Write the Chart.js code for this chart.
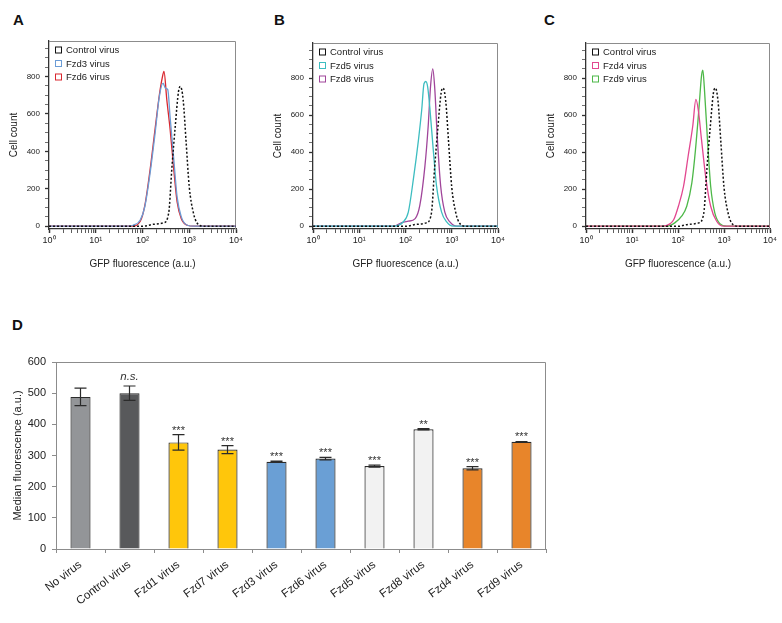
<!DOCTYPE html>
<html>
<head>
<meta charset="utf-8">
<script src="https://cdn.jsdelivr.net/npm/chart.js@4.4.1/dist/chart.umd.min.js"></script>
<style>
  body { margin: 0; background: #fff; width: 782px; height: 623px; position: relative; overflow: hidden; font-family: "Liberation Sans", Arial, sans-serif; }
  canvas { position: absolute; }
  .tag { position: absolute; font-weight: bold; font-size: 15px; line-height: 16px; color: #111; }
</style>
</head>
<body>
<div class="tag" style="left:13px;top:12px">A</div>
<div class="tag" style="left:274px;top:12px">B</div>
<div class="tag" style="left:544px;top:12px">C</div>
<div class="tag" style="left:12px;top:317px">D</div>
<canvas id="histA" width="250" height="270" style="left:0;top:0"></canvas>
<canvas id="histB" width="248" height="270" style="left:264px;top:0"></canvas>
<canvas id="histC" width="243" height="270" style="left:537px;top:0"></canvas>
<canvas id="barD" width="560" height="323" style="left:0;top:300px"></canvas>
<script>
// histogram curves: GFP fluorescence (a.u.) vs cell count
const ctrlX = [1, 105, 170, 282, 363, 427, 501, 589, 646, 741, 851, 1000, 1230, 1479, 2042, 10000];
const ctrlY = [0, 0, 10, 18, 70, 318, 532, 720, 747, 676, 461, 211, 70, 16, 0, 0];

const fzd3X = [1, 46, 63, 89, 112, 145, 186, 229, 275, 309, 347, 389, 468, 550, 676, 912, 1259, 10000];
const fzd3Y = [0, 0, 5, 32, 104, 282, 497, 693, 765, 738, 730, 585, 354, 157, 50, 5, 0, 0];
const fzd6X = [1, 59, 89, 112, 145, 186, 229, 263, 288, 331, 389, 468, 550, 676, 912, 1259, 10000];
const fzd6Y = [0, 0, 25, 110, 300, 520, 700, 790, 827, 676, 520, 300, 130, 40, 5, 0, 0];

const fzd5X = [1, 55, 89, 115, 148, 191, 224, 251, 275, 302, 339, 398, 468, 603, 776, 1072, 10000];
const fzd5Y = [0, 0, 23, 76, 254, 468, 628, 770, 782, 752, 628, 414, 219, 76, 23, 0, 0];
const fzd8X = [1, 55, 83, 115, 162, 204, 263, 309, 347, 389, 427, 490, 575, 708, 912, 1288, 10000];
const fzd8Y = [0, 0, 20, 27, 41, 112, 325, 539, 752, 850, 752, 468, 219, 76, 23, 0, 0];

const fzd4X = [1, 48, 68, 81, 102, 132, 166, 209, 245, 275, 324, 407, 513, 692, 977, 10000];
const fzd4Y = [0, 0, 14, 36, 108, 216, 378, 540, 685, 631, 469, 252, 108, 27, 0, 0];
const fzd9X = [1, 56, 85, 120, 155, 200, 240, 288, 324, 347, 372, 437, 513, 631, 813, 1148, 10000];
const fzd9Y = [0, 0, 18, 54, 108, 234, 414, 649, 811, 843, 757, 469, 216, 72, 14, 0, 0];

// cell count axis: minor tick every 50, label every 200
const countTicks = [0, 50, 100, 150, 200, 250, 300, 350, 400, 450, 500, 550, 600, 650, 700, 750, 800, 850, 900, 950];

// panel D: median fluorescence
const categories = ['No virus', 'Control virus', 'Fzd1 virus', 'Fzd7 virus', 'Fzd3 virus', 'Fzd6 virus', 'Fzd5 virus', 'Fzd8 virus', 'Fzd4 virus', 'Fzd9 virus'];
const medianValues = [488, 500, 342, 319, 280, 290, 266, 384, 259, 344];
const errorValues = [28, 23, 25, 13, 2, 4, 3, 2, 5, 1];
const sigLabels = ['', 'n.s.', '***', '***', '***', '***', '***', '**', '***', '***'];
const barColors = ['#939598', '#58595b', '#ffc60b', '#ffc60b', '#6a9fd5', '#6a9fd5', '#f2f2f2', '#f2f2f2', '#e8852a', '#e8852a'];

const FONT = '"Liberation Sans", Arial, sans-serif';
Chart.defaults.font.family = FONT;
Chart.defaults.color = '#222';

const sup = ['\u2070', '\u00b9', '\u00b2', '\u00b3', '\u2074'];

// grey top / right border of the plot box
const frame = {
    id: 'frame',
    beforeDatasetsDraw(chart) {
        const {ctx, chartArea: a} = chart;
        ctx.save();
        ctx.strokeStyle = '#8c8c8c';
        ctx.lineWidth = 1;
        ctx.beginPath();
        ctx.moveTo(a.left, a.top + 0.5);
        ctx.lineTo(a.right - 0.5, a.top + 0.5);
        ctx.lineTo(a.right - 0.5, a.bottom);
        ctx.stroke();
        ctx.restore();
    }
};

// small legend with outlined boxes, inside the top-left of the plot
const insideLegend = {
    id: 'insideLegend',
    afterDraw(chart) {
        const {ctx, chartArea: a} = chart;
        ctx.save();
        ctx.font = '9.5px ' + FONT;
        ctx.textBaseline = 'middle';
        ctx.textAlign = 'left';
        chart.data.datasets.forEach((d, i) => {
            const cy = a.top + 9 + i * 13.5;
            ctx.strokeStyle = d.borderColor;
            ctx.lineWidth = 1;
            ctx.setLineDash([]);
            ctx.strokeRect(a.left + 6.5, cy - 3, 6, 6);
            ctx.fillStyle = '#222';
            ctx.fillText(d.label, a.left + 17, cy + 0.5);
        });
        ctx.restore();
    }
};

function isDecade(v) {
    const e = Math.round(Math.log10(v));
    return Math.abs(v - Math.pow(10, e)) < 1e-6;
}

function isWholeStep(v) {
    const p = Math.pow(10, Math.floor(Math.log10(v) + 1e-9));
    return Math.abs(v / p - Math.round(v / p)) < 1e-6;
}

function histChart(id, sets, padTop, padRight) {
    return new Chart(document.getElementById(id), {
        type: 'line',
        data: {
            datasets: sets.map(s => ({
                label: s.label,
                data: s.x.map((v, i) => ({x: v, y: s.y[i]})),
                borderColor: s.color,
                borderWidth: s.dash ? 1.5 : 1.3,
                borderDash: s.dash || [],
                pointRadius: 0,
                cubicInterpolationMode: 'monotone',
                fill: false
            }))
        },
        options: {
            responsive: false,
            animation: false,
            layout: { padding: { left: 8, top: padTop, right: padRight, bottom: 0 } },
            scales: {
                x: {
                    type: 'logarithmic',
                    min: 1,
                    max: 10000,
                    afterFit: s => { s.height = 41; },
                    border: { color: '#333', width: 1.3 },
                    grid: {
                        drawOnChartArea: false,
                        tickLength: 4,
                        tickColor: c => isWholeStep(c.tick.value) ? '#333' : 'rgba(0,0,0,0)',
                        tickWidth: c => isDecade(c.tick.value) ? 1.5 : 0.8
                    },
                    ticks: {
                        autoSkip: false,
                        maxRotation: 0,
                        padding: 2,
                        font: { size: 9 },
                        callback: v => isDecade(v) ? '10' + sup[Math.round(Math.log10(v))] : ''
                    },
                    title: { display: true, text: 'GFP fluorescence (a.u.)', padding: 0, font: { size: 10 } }
                },
                y: {
                    min: -15,
                    max: 990,
                    afterFit: s => { s.width = 41; },
                    afterBuildTicks: s => { s.ticks = countTicks.map(v => ({ value: v })); },
                    border: { color: '#333', width: 1.3 },
                    grid: {
                        drawOnChartArea: false,
                        tickLength: 4,
                        tickColor: '#333',
                        tickWidth: c => c.tick.value % 200 === 0 ? 1.3 : 0.7
                    },
                    ticks: {
                        autoSkip: false,
                        padding: 5,
                        font: { size: 8 },
                        callback: v => (v % 200 === 0 && v <= 800) ? String(v) : ''
                    },
                    title: { display: true, text: 'Cell count', padding: 0, font: { size: 10 } }
                }
            },
            plugins: {
                tooltip: { enabled: false },
                legend: { display: false }
            }
        },
        plugins: [frame, insideLegend]
    });
}

const ctrlSet = { label: 'Control virus', x: ctrlX, y: ctrlY, color: '#111', dash: [2, 2] };

histChart('histA', [
    ctrlSet,
    { label: 'Fzd3 virus', x: fzd3X, y: fzd3Y, color: '#6b9cd6' },
    { label: 'Fzd6 virus', x: fzd6X, y: fzd6Y, color: '#d9262e' }
], 41, 14);

histChart('histB', [
    ctrlSet,
    { label: 'Fzd5 virus', x: fzd5X, y: fzd5Y, color: '#3dbdc0' },
    { label: 'Fzd8 virus', x: fzd8X, y: fzd8Y, color: '#a0459a' }
], 43, 14);

histChart('histC', [
    ctrlSet,
    { label: 'Fzd4 virus', x: fzd4X, y: fzd4Y, color: '#e2478f' },
    { label: 'Fzd9 virus', x: fzd9X, y: fzd9Y, color: '#4db848' }
], 43, 10);

// error bars and significance marks on top of the bars
const errorBars = {
    id: 'errorBars',
    afterDatasetsDraw(chart) {
        const {ctx} = chart;
        const y = chart.scales.y;
        const bars = chart.getDatasetMeta(0).data;
        ctx.save();
        ctx.strokeStyle = '#2b2b2b';
        ctx.lineWidth = 1.2;
        bars.forEach((bar, i) => {
            const top = y.getPixelForValue(medianValues[i] + errorValues[i]);
            const bot = y.getPixelForValue(medianValues[i] - errorValues[i]);
            ctx.beginPath();
            ctx.moveTo(bar.x, top);
            ctx.lineTo(bar.x, bot);
            ctx.moveTo(bar.x - 6, top);
            ctx.lineTo(bar.x + 6, top);
            ctx.moveTo(bar.x - 6, bot);
            ctx.lineTo(bar.x + 6, bot);
            ctx.stroke();
            const s = sigLabels[i];
            if (s) {
                ctx.fillStyle = '#333';
                ctx.textAlign = 'center';
                ctx.textBaseline = 'alphabetic';
                if (s === 'n.s.') {
                    ctx.font = 'italic 11.5px ' + FONT;
                    ctx.fillText(s, bar.x, top - 6);
                } else {
                    ctx.font = '11px ' + FONT;
                    ctx.fillText(s, bar.x, top - 1);
                }
            }
        });
        ctx.restore();
    }
};

new Chart(document.getElementById('barD'), {
    type: 'bar',
    data: {
        labels: categories,
        datasets: [{
            data: medianValues,
            backgroundColor: barColors,
            borderColor: '#2b2b2b',
            borderWidth: 1.2,
            barPercentage: 0.41,
            categoryPercentage: 1
        }]
    },
    options: {
        responsive: false,
        animation: false,
        layout: { padding: { left: 11, top: 62, right: 14, bottom: 0 } },
        scales: {
            x: {
                afterFit: s => { s.height = 74; },
                border: { color: '#8c8c8c', width: 1 },
                grid: { drawOnChartArea: false, tickLength: 4, tickColor: '#8c8c8c' },
                ticks: { minRotation: 37, maxRotation: 37, padding: 5, font: { size: 11.5 }, color: '#222' }
            },
            y: {
                min: 0,
                max: 600,
                afterFit: s => { s.width = 45; },
                border: { color: '#8c8c8c', width: 1 },
                grid: { drawOnChartArea: false, tickLength: 4, tickColor: '#8c8c8c' },
                ticks: { stepSize: 100, padding: 6, font: { size: 11 }, color: '#222' },
                title: { display: true, text: 'Median fluorescence (a.u.)', padding: 0, font: { size: 11 } }
            }
        },
        plugins: {
            legend: { display: false },
            tooltip: { enabled: false }
        }
    },
    plugins: [frame, errorBars]
});
</script>
</body>
</html>
